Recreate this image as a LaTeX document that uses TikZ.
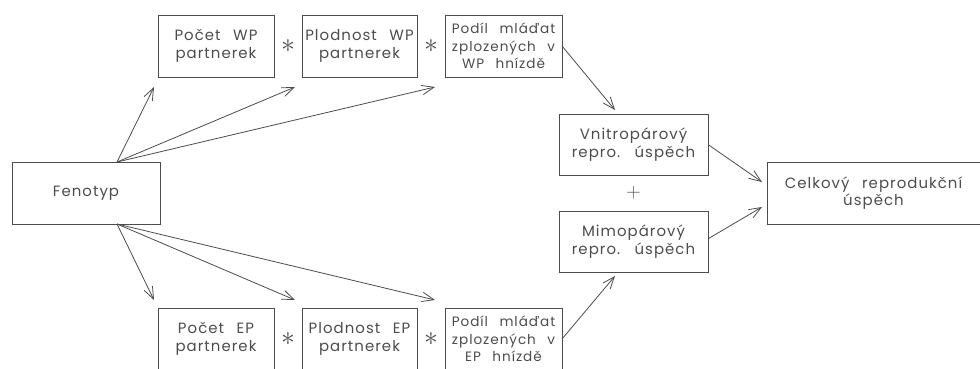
\documentclass[tikz,border=0pt]{standalone}
\usepackage{fontspec}
\setmainfont[LetterSpace=7,WordSpace=2.5]{Poppins}
\usetikzlibrary{arrows.meta}

\begin{document}
\begin{tikzpicture}[x=0.75pt,y=-0.75pt,
	box/.style={draw=black!70,line width=0.6pt,inner sep=0pt,outer sep=0pt,minimum height=46.5pt,align=center,text=black!70,font=\fontsize{11.2}{13.2}\selectfont},
	small/.style={font=\fontsize{10.2}{13.2}\selectfont},
	arr/.style={draw=black!70,line width=0.6pt,-{Straight Barb[length=9pt,width=7pt]}},
	op/.style={text=black!70,font=\fontsize{20}{20}\selectfont}]
	\useasboundingbox (0,0) rectangle (980,368);
	\node [box,minimum width=111pt] (fen) at (86,193) {Fenotyp};
	\node [box,minimum width=87pt] (pwp) at (216,46) {Počet WP\\partnerek};
	\node [box,minimum width=86.25pt] (lwp) at (359.5,46) {Plodnost WP\\partnerek};
	\node [box,small,minimum width=87.75pt] (dwp) at (503.5,46) {Podíl mláďat\\zplozených v\\WP hnízdě};
	\node [box,minimum width=87pt] (pep) at (216,339) {Počet EP\\partnerek};
	\node [box,minimum width=86.25pt] (lep) at (359.5,339) {Plodnost EP\\partnerek};
	\node [box,small,minimum width=87.75pt] (dep) at (503.5,339) {Podíl mláďat\\zplozených v\\EP hnízdě};
	\node [box,minimum width=111.75pt,minimum height=45.75pt] (vni) at (633.5,144.5) {Vnitropárový\\repro. úspěch};
	\node [box,minimum width=111.75pt,minimum height=45.75pt] (mim) at (633.5,241.5) {Mimopárový\\repro. úspěch};
	\node [box,minimum width=159.75pt] (cel) at (873.5,193) {Celkový reprodukční\\úspěch};
	\node [op] (m1) at (288,46) {$\ast$};
	\node [op] (m2) at (431,46) {$\ast$};
	\node [op] (m3) at (288,339) {$\ast$};
	\node [op] (m4) at (431,339) {$\ast$};
	\node [op,font=\Large] (pl) at (633.5,193) {$+$};
	\coordinate (ft) at (117,162);
	\coordinate (fb) at (117,224);
	\coordinate (t1) at (154,87);
	\coordinate (t2) at (295,87);
	\coordinate (t3) at (435,87);
	\coordinate (b1) at (154,300);
	\coordinate (b2) at (295,300);
	\coordinate (b3) at (435,300);
	\coordinate (vt) at (615,110);
	\coordinate (mb) at (615,276);
	\coordinate (c1) at (762,182);
	\coordinate (c2) at (762,207);
	\draw [arr] (ft) -- (t1);
	\draw [arr] (ft) -- (t2);
	\draw [arr] (ft) -- (t3);
	\draw [arr] (fb) -- (b1);
	\draw [arr] (fb) -- (b2);
	\draw [arr] (fb) -- (b3);
	\draw [arr] (dwp.east) -- (vt);
	\draw [arr] (dep.east) -- (mb);
	\draw [arr] (vni.east) -- (c1);
	\draw [arr] ([yshift=2pt]mim.east) -- (c2);
\end{tikzpicture}
\end{document}
